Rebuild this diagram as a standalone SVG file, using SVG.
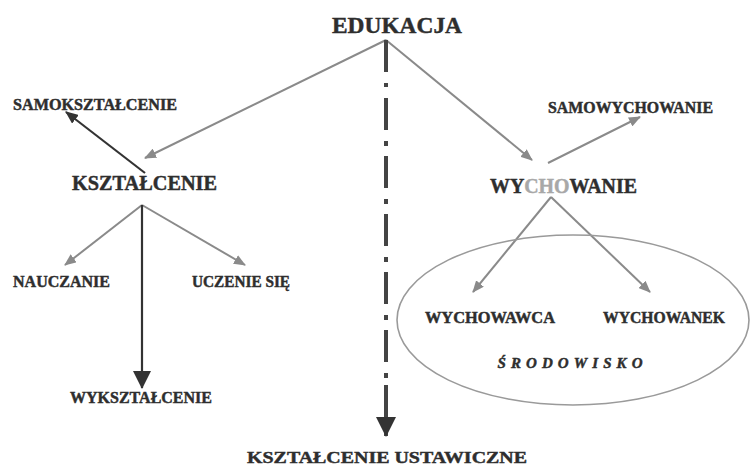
<svg xmlns="http://www.w3.org/2000/svg" width="753" height="467" viewBox="0 0 753 467">
<defs>
<style>
text{font-family:"Liberation Serif","DejaVu Serif",serif;font-weight:bold;fill:#2e2e2e;stroke:#2e2e2e;stroke-width:0.45}
.s{font-size:16px}
.m{font-size:20px}
.g{stroke:#8a8a8a;stroke-width:2;fill:none}
.d{stroke:#333;stroke-width:2.2;fill:none}
</style>
<marker id="ag" viewBox="0 0 12 10" refX="11" refY="5" markerWidth="12" markerHeight="10" markerUnits="userSpaceOnUse" orient="auto"><path d="M0,0 L12,5 L0,10 Z" fill="#8a8a8a"/></marker>
<marker id="ad" viewBox="0 0 12 10" refX="11" refY="5" markerWidth="13" markerHeight="11" markerUnits="userSpaceOnUse" orient="auto"><path d="M0,0 L12,5 L0,10 Z" fill="#333"/></marker>
<marker id="ab" viewBox="0 0 20 20" refX="19" refY="10" markerWidth="20" markerHeight="20" markerUnits="userSpaceOnUse" orient="auto"><path d="M0,0 L20,10 L0,20 Z" fill="#333"/></marker>
<marker id="am" viewBox="0 0 18 18" refX="17" refY="9" markerWidth="18" markerHeight="18" markerUnits="userSpaceOnUse" orient="auto"><path d="M0,0 L18,9 L0,18 Z" fill="#333"/></marker>
</defs>
<rect width="753" height="467" fill="#fff"/>
<g id="connectors">
<line class="g" x1="386" y1="40" x2="145" y2="158" marker-end="url(#ag)"/>
<line class="g" x1="386" y1="40" x2="532" y2="160" marker-end="url(#ag)"/>
<line class="d" x1="145" y1="173" x2="66" y2="112" marker-end="url(#ad)"/>
<line class="g" x1="548" y1="163" x2="640" y2="117" marker-end="url(#ag)"/>
<line class="g" x1="142" y1="205" x2="65" y2="265" marker-end="url(#ag)"/>
<line class="g" x1="142" y1="205" x2="245" y2="265" marker-end="url(#ag)"/>
<line class="d" x1="142" y1="205" x2="142" y2="388" marker-end="url(#am)"/>
<line class="g" x1="551" y1="197" x2="473" y2="292" marker-end="url(#ag)"/>
<line class="g" x1="551" y1="197" x2="650" y2="292" marker-end="url(#ag)"/>
<line x1="386" y1="40" x2="386" y2="98" stroke="#444" stroke-width="4" stroke-dasharray="32 11 4 11"/>
<line x1="386" y1="98" x2="386" y2="385" stroke="#444" stroke-width="4" stroke-dasharray="32 11 5 10"/>
<line x1="386" y1="385" x2="386" y2="436" stroke="#444" stroke-width="4" marker-end="url(#ab)"/>
</g>
<g id="srodowisko">
<ellipse cx="573" cy="320" rx="176" ry="85" fill="none" stroke="#9a9a9a" stroke-width="1.6"/>
<text x="570" y="368" text-anchor="middle" style="font-size:15px;font-style:italic" textLength="145" lengthAdjust="spacing">ŚRODOWISKO</text>
</g>
<g id="edukacja"><text x="397" y="33" text-anchor="middle" style="font-size:24px" textLength="130" lengthAdjust="spacingAndGlyphs">EDUKACJA</text></g>
<g id="samoksztalcenie"><text class="s" x="13" y="110" textLength="164" lengthAdjust="spacingAndGlyphs">SAMOKSZTAŁCENIE</text></g>
<g id="ksztalcenie"><text class="m" x="72" y="190" textLength="145" lengthAdjust="spacingAndGlyphs">KSZTAŁCENIE</text></g>
<g id="samowychowanie"><text class="s" x="548" y="113" textLength="165" lengthAdjust="spacingAndGlyphs">SAMOWYCHOWANIE</text></g>
<g id="wychowanie"><text class="m" x="490" y="193" style="font-size:21px" textLength="147" lengthAdjust="spacingAndGlyphs">WY<tspan fill="#a8a8a8" stroke="#a8a8a8">CHO</tspan>WANIE</text></g>
<g id="nauczanie"><text class="s" x="13" y="287" textLength="97" lengthAdjust="spacingAndGlyphs">NAUCZANIE</text></g>
<g id="uczenie-sie"><text class="s" x="192" y="287" textLength="98" lengthAdjust="spacingAndGlyphs">UCZENIE SIĘ</text></g>
<g id="wyksztalcenie"><text class="s" x="70" y="403" textLength="142" lengthAdjust="spacingAndGlyphs">WYKSZTAŁCENIE</text></g>
<g id="wychowawca"><text class="s" x="425" y="323" textLength="130" lengthAdjust="spacingAndGlyphs">WYCHOWAWCA</text></g>
<g id="wychowanek"><text class="s" x="603" y="323" textLength="122" lengthAdjust="spacingAndGlyphs">WYCHOWANEK</text></g>
<g id="ksztalcenie-ustawiczne"><text x="247" y="463" style="font-size:17px" textLength="280" lengthAdjust="spacingAndGlyphs">KSZTAŁCENIE USTAWICZNE</text></g>
</svg>
